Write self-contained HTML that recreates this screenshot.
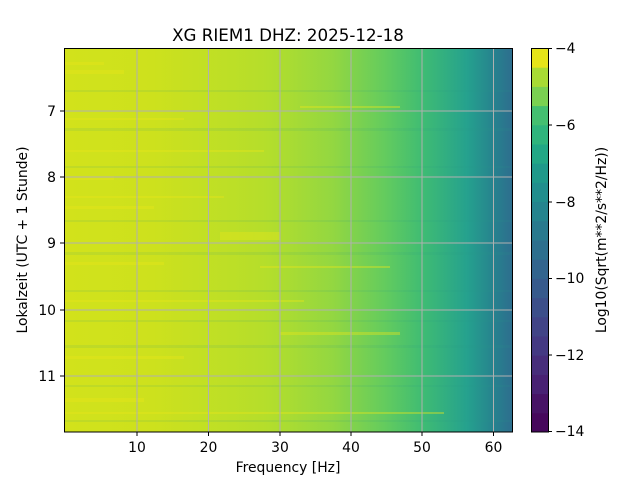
<!DOCTYPE html>
<html><head><meta charset="utf-8"><style>
body{margin:0;background:#fff}
svg text{font-family:"DejaVu Sans","Liberation Sans",sans-serif;fill:#000}
</style></head><body>
<svg width="640" height="480" viewBox="0 0 640 480" xmlns="http://www.w3.org/2000/svg">
<defs>
<linearGradient id="g" x1="0" x2="1" y1="0" y2="0">
<stop offset="0" stop-color="#d2e21b"/>
<stop offset="0.2" stop-color="#cde11d"/>
<stop offset="0.45" stop-color="#b5de2b"/>
<stop offset="0.6" stop-color="#93d741"/>
<stop offset="0.72" stop-color="#62cb5f"/>
<stop offset="0.8" stop-color="#3fbc73"/>
<stop offset="0.9" stop-color="#25a18e"/>
<stop offset="0.96" stop-color="#26828e"/>
<stop offset="1" stop-color="#2e6e8e"/>
</linearGradient>
</defs>
<rect x="64" y="48" width="448" height="384" fill="url(#g)"/>
<g fill="#e8e619" opacity="0.4">
<rect x="64" y="62" width="40" height="3"/><rect x="64" y="70" width="60" height="4"/>
<rect x="64" y="118" width="120" height="2"/><rect x="64" y="150" width="200" height="2"/>
<rect x="64" y="176" width="50" height="4"/><rect x="64" y="196" width="160" height="2"/>
<rect x="64" y="206" width="90" height="3"/><rect x="220" y="232" width="60" height="8"/>
<rect x="64" y="262" width="100" height="3"/><rect x="64" y="300" width="240" height="2"/>
<rect x="280" y="332" width="120" height="3"/><rect x="64" y="356" width="120" height="3"/>
<rect x="64" y="398" width="80" height="4"/><rect x="260" y="266" width="130" height="2"/>
<rect x="300" y="106" width="100" height="2"/><rect x="64" y="412" width="380" height="2"/>
</g>
<g fill="#2a9a85" opacity="0.1">
<rect x="64" y="90" width="448" height="2"/><rect x="64" y="128" width="448" height="3"/>
<rect x="64" y="166" width="448" height="2"/><rect x="64" y="220" width="448" height="2"/>
<rect x="64" y="252" width="448" height="3"/><rect x="64" y="290" width="448" height="2"/>
<rect x="64" y="320" width="448" height="2"/><rect x="64" y="345" width="448" height="3"/>
<rect x="64" y="385" width="448" height="2"/><rect x="64" y="420" width="448" height="2"/>
</g>
<g stroke="#b0b0b0" stroke-width="1">
<line x1="137" y1="48" x2="137" y2="432"/><line x1="208.5" y1="48" x2="208.5" y2="432"/>
<line x1="280" y1="48" x2="280" y2="432"/><line x1="351" y1="48" x2="351" y2="432"/>
<line x1="422" y1="48" x2="422" y2="432"/><line x1="493.5" y1="48" x2="493.5" y2="432"/>
<line x1="64" y1="111" x2="512" y2="111"/><line x1="64" y1="177" x2="512" y2="177"/>
<line x1="64" y1="243" x2="512" y2="243"/><line x1="64" y1="310" x2="512" y2="310"/>
<line x1="64" y1="376" x2="512" y2="376"/>
</g>
<rect x="64.5" y="48.5" width="448" height="383.5" fill="none" stroke="#000" stroke-width="1"/>
<g stroke="#000">
<line x1="137" y1="432" x2="137" y2="436"/><line x1="208.5" y1="432" x2="208.5" y2="436"/>
<line x1="280" y1="432" x2="280" y2="436"/><line x1="351" y1="432" x2="351" y2="436"/>
<line x1="422" y1="432" x2="422" y2="436"/><line x1="493.5" y1="432" x2="493.5" y2="436"/>
<line x1="60" y1="111" x2="64" y2="111"/><line x1="60" y1="177" x2="64" y2="177"/>
<line x1="60" y1="243" x2="64" y2="243"/><line x1="60" y1="310" x2="64" y2="310"/>
<line x1="60" y1="376" x2="64" y2="376"/>
</g>
<g font-size="13.9" text-anchor="middle">
<text x="137" y="452">10</text><text x="208.5" y="452">20</text><text x="280" y="452">30</text>
<text x="351" y="452">40</text><text x="422" y="452">50</text><text x="493.5" y="452">60</text>
</g>
<g font-size="13.9" text-anchor="end">
<text x="56" y="116">7</text><text x="56" y="182">8</text><text x="56" y="248">9</text>
<text x="56" y="315">10</text><text x="56" y="381">11</text>
</g>
<text x="288" y="472" font-size="13.9" text-anchor="middle">Frequency [Hz]</text>
<text transform="translate(27,240) rotate(-90)" font-size="13.9" text-anchor="middle">Lokalzeit (UTC + 1 Stunde)</text>
<text x="288" y="41" font-size="16.7" text-anchor="middle">XG RIEM1  DHZ: 2025-12-18</text>
<g>
<rect x="531" y="412.8" width="17" height="19.7" fill="#46085c"/>
<rect x="531" y="393.6" width="17" height="19.7" fill="#471365"/>
<rect x="531" y="374.4" width="17" height="19.7" fill="#482173"/>
<rect x="531" y="355.2" width="17" height="19.7" fill="#472d7b"/>
<rect x="531" y="336" width="17" height="19.7" fill="#443983"/>
<rect x="531" y="316.8" width="17" height="19.7" fill="#414487"/>
<rect x="531" y="297.6" width="17" height="19.7" fill="#3c4f8a"/>
<rect x="531" y="278.4" width="17" height="19.7" fill="#375a8c"/>
<rect x="531" y="259.2" width="17" height="19.7" fill="#32648e"/>
<rect x="531" y="240" width="17" height="19.7" fill="#2d6f8e"/>
<rect x="531" y="220.8" width="17" height="19.7" fill="#297a8e"/>
<rect x="531" y="201.6" width="17" height="19.7" fill="#25848e"/>
<rect x="531" y="182.4" width="17" height="19.7" fill="#218e8d"/>
<rect x="531" y="163.2" width="17" height="19.7" fill="#1f998a"/>
<rect x="531" y="144" width="17" height="19.7" fill="#22a785"/>
<rect x="531" y="124.8" width="17" height="19.7" fill="#2fb47c"/>
<rect x="531" y="105.6" width="17" height="19.7" fill="#44bf70"/>
<rect x="531" y="86.4" width="17" height="19.7" fill="#7ad151"/>
<rect x="531" y="67.2" width="17" height="19.7" fill="#a8db34"/>
<rect x="531" y="48" width="17" height="19.7" fill="#e5e419"/>
</g>
<rect x="531.5" y="48.5" width="17" height="383.5" fill="none" stroke="#000"/>
<g stroke="#000">
<line x1="548" y1="48.5" x2="552" y2="48.5"/><line x1="548" y1="125" x2="552" y2="125"/>
<line x1="548" y1="202" x2="552" y2="202"/><line x1="548" y1="278.5" x2="552" y2="278.5"/>
<line x1="548" y1="355" x2="552" y2="355"/><line x1="548" y1="431.5" x2="552" y2="431.5"/>
</g>
<g font-size="13.9">
<text x="555" y="53">−4</text><text x="555" y="130">−6</text><text x="555" y="207">−8</text>
<text x="555" y="283">−10</text><text x="555" y="360">−12</text><text x="555" y="436">−14</text>
</g>
<text transform="translate(606,240) rotate(-90)" font-size="13.9" text-anchor="middle">Log10(Sqrt(m**2/s**2/Hz))</text>
</svg>
</body></html>
